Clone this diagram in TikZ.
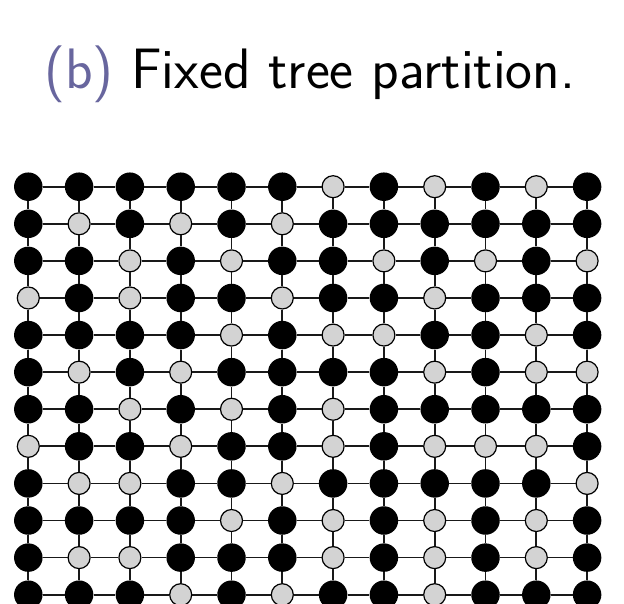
\documentclass[tikz,border=0pt]{standalone}
\usepackage{fontspec}
\definecolor{labelpurple}{RGB}{104,102,158}
\definecolor{nodegray}{RGB}{211,211,211}
\tikzset{
  blacknode/.style={circle,fill=black,inner sep=0pt,minimum size=28.5pt},
  graynode/.style={circle,fill=nodegray,draw=black,line width=1.2pt,inner sep=0pt,minimum size=22pt},
  gridedge/.style={line width=1.7pt,black!90}
}
\begin{document}
\begin{tikzpicture}[x=1pt,y=-1pt]
\useasboundingbox (0,0) rectangle (624,603);
\clip (0,0) rectangle (624,603);
\node[anchor=base west,inner sep=0pt,font=\sffamily\fontsize{57}{64}\selectfont] (title) at (44,88)
  {\textcolor{labelpurple}{(b)} Fixed tree partition.};
\foreach \r/\row in {
  1/{1,1,1,1,1,1,0,1,0,1,0,1},
  2/{1,0,1,0,1,0,1,1,1,1,1,1},
  3/{1,1,0,1,0,1,1,0,1,0,1,0},
  4/{0,1,0,1,1,0,1,1,0,1,1,1},
  5/{1,1,1,1,0,1,0,0,1,1,0,1},
  6/{1,0,1,0,1,1,1,1,0,1,0,0},
  7/{1,1,0,1,0,1,0,1,1,1,1,1},
  8/{0,1,1,0,1,1,0,1,0,0,0,1},
  9/{1,0,0,1,1,0,1,1,1,1,1,0},
  10/{1,1,1,1,0,1,0,1,0,1,0,1},
  11/{1,0,0,1,1,1,0,1,0,1,0,1},
  12/{1,1,1,0,1,0,1,1,0,1,1,1}}{
  \foreach \v [count=\c] in \row {
    \pgfmathsetmacro{\px}{28.3+50.8*(\c-1)}
    \pgfmathsetmacro{\py}{186.7+37.09*(\r-1)}
    \ifnum\v=1
      \node[blacknode] (n-\r-\c) at (\px,\py) {};
    \else
      \node[graynode] (n-\r-\c) at (\px,\py) {};
    \fi
  }
}
\foreach \r in {1,...,12}{
  \foreach \c in {1,...,11}{
    \pgfmathtruncatemacro{\cn}{\c+1}
    \draw[gridedge] (n-\r-\c) -- (n-\r-\cn);
  }
}
\foreach \r in {1,...,11}{
  \foreach \c in {1,...,12}{
    \pgfmathtruncatemacro{\rn}{\r+1}
    \draw[gridedge] (n-\r-\c) -- (n-\rn-\c);
  }
}
\end{tikzpicture}
\end{document}
